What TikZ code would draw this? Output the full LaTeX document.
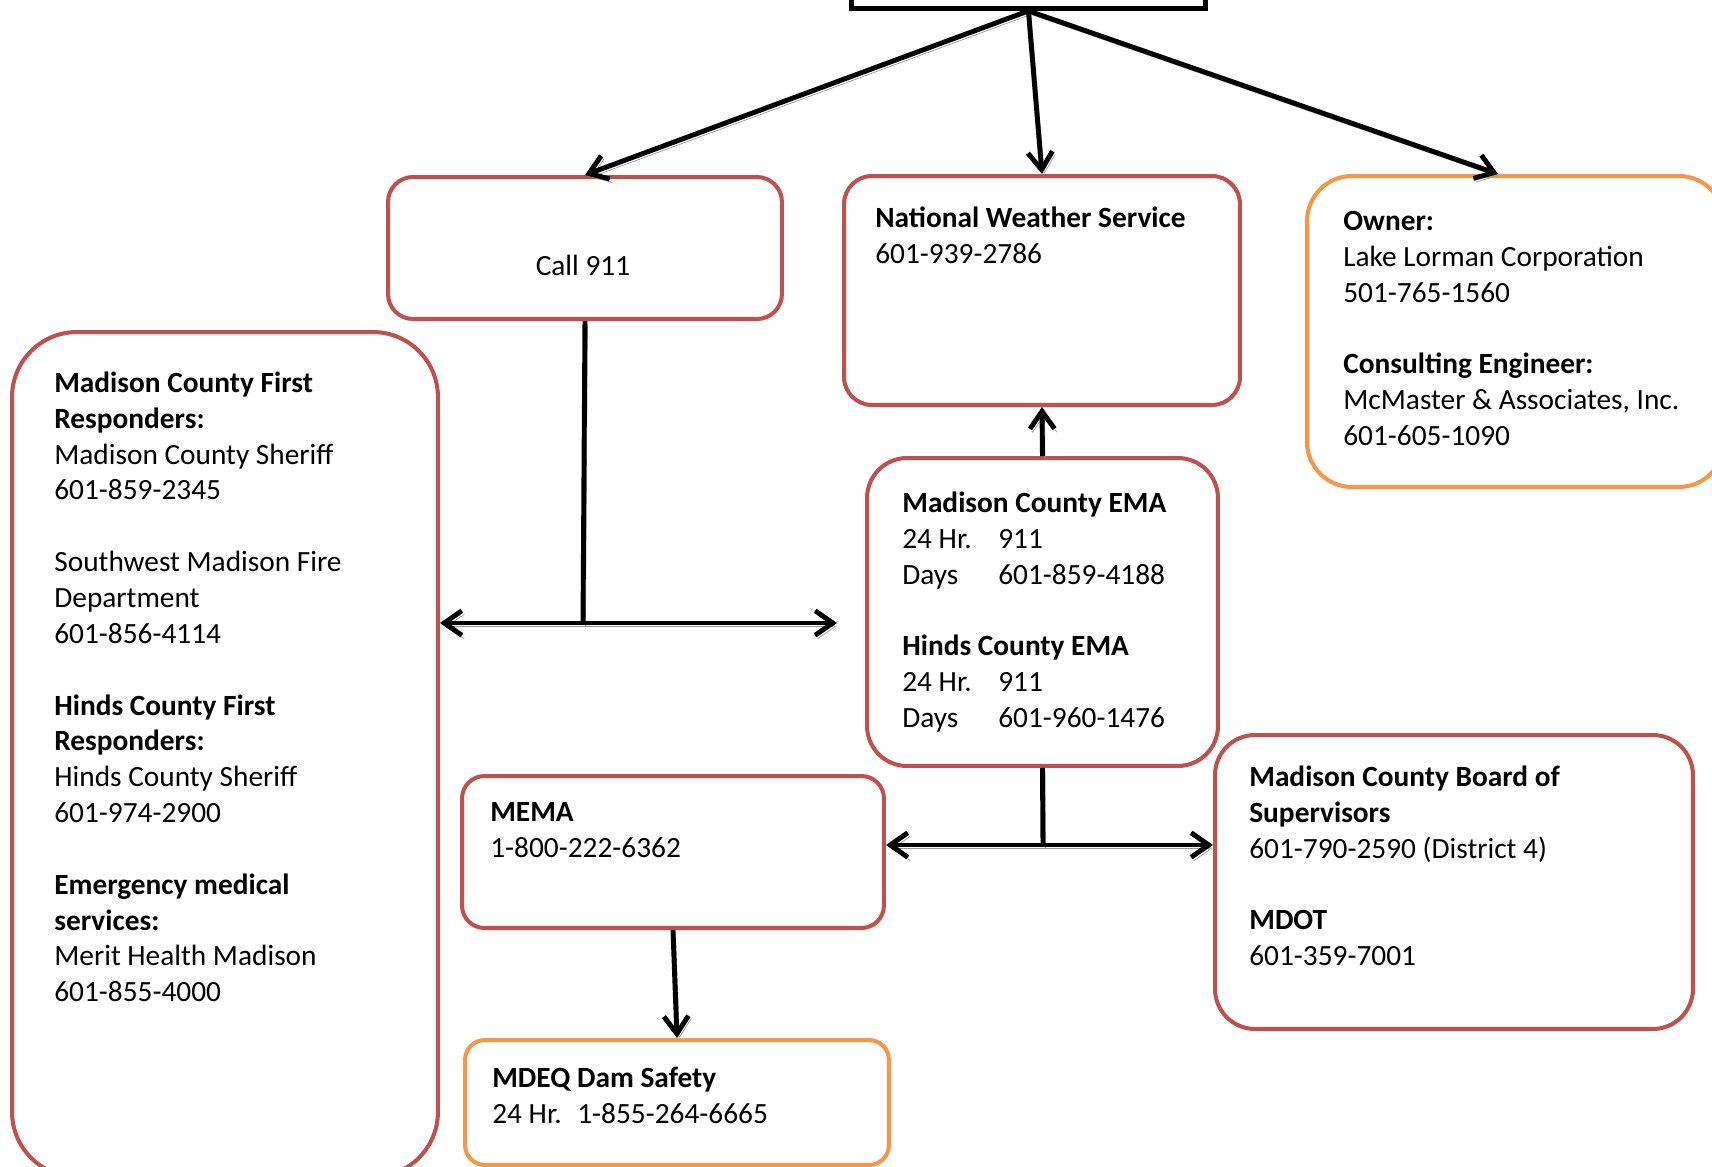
\documentclass[tikz,border=0pt]{standalone}
\usepackage{fontspec}
\setmainfont{Carlito}
\usetikzlibrary{arrows.meta,calc}
\definecolor{boxred}{HTML}{C0504D}
\definecolor{boxorange}{HTML}{F79646}

\begin{document}
\begin{tikzpicture}[x=0.02cm,y=-0.02cm,
	every node/.style={font=\fontsize{16.7pt}{20.4pt}\selectfont},
	box/.style={draw=#1, line width=2.3pt, anchor=north west, inner sep=0pt},
	txt/.style={anchor=north west, align=left, inner sep=0pt},
	link/.style={line width=2.8pt, preaction={draw=black!40, transform canvas={shift={(0.05cm,-0.07cm)}}}},
	>={Straight Barb[length=10pt,width=14pt]}]
	\useasboundingbox (0,0) rectangle (1712,1167);
	\clip (0,0) rectangle (1712,1167);
	% boxes
	\node[draw, line width=2.8pt, anchor=north west, inner sep=0pt, minimum width=7.08cm, minimum height=2cm] (top) at (849,-94) {};
	\node[box=boxred, rounded corners=0.5cm, minimum width=7.88cm, minimum height=2.84cm] (call) at (386,175) {};
	\node[box=boxred, rounded corners=0.56cm, minimum width=7.92cm, minimum height=4.58cm] (nws) at (842,174) {};
	\node[box=boxorange, rounded corners=0.9cm, minimum width=8.34cm, minimum height=6.22cm] (owner) at (1305,174) {};
	\node[box=boxred, rounded corners=1.3cm, minimum width=8.52cm, minimum height=16.9cm] (resp) at (10,330) {};
	\node[box=boxred, rounded corners=0.8cm, minimum width=7.02cm, minimum height=6.16cm] (ema) at (865,456) {};
	\node[box=boxred, rounded corners=0.45cm, minimum width=8.44cm, minimum height=3.04cm] (mema) at (460,774) {};
	\node[box=boxorange, rounded corners=0.4cm, minimum width=8.48cm, minimum height=2.5cm] (mdeq) at (463,1038) {};
	\node[box=boxred, rounded corners=0.8cm, minimum width=9.56cm, minimum height=5.88cm] (board) at (1213,733) {};
	% texts
	\node[anchor=base, inner sep=0pt] (calltxt) at (583,275) {Call 911};
	\node[txt] (nwstxt) at (875,202) {\strut\textbf{National Weather Service}\\601-939-2786};
	\node[txt] (ownertxt) at (1343,205) {\strut\textbf{Owner:}\\Lake Lorman Corporation\\501-765-1560\\[20.4pt]
		\textbf{Consulting Engineer:}\\McMaster \& Associates, Inc.\\601-605-1090};
	\node[txt] (resptxt) at (54,367) {\strut\textbf{Madison County First}\\\textbf{Responders:}\\Madison County Sheriff\\601-859-2345\\[20.4pt]
		Southwest Madison Fire\\Department\\601-856-4114\\[20.4pt]
		\textbf{Hinds County First}\\\textbf{Responders:}\\Hinds County Sheriff\\601-974-2900\\[20.4pt]
		\textbf{Emergency medical}\\\textbf{services:}\\Merit Health Madison\\601-855-4000};
	\node[txt] (ematxt) at (902,487) {\strut\textbf{Madison County EMA}\\\makebox[1.92cm][l]{24 Hr.}911\\\makebox[1.92cm][l]{Days}601-859-4188\\[20.4pt]
		\textbf{Hinds County EMA}\\\makebox[1.92cm][l]{24 Hr.}911\\\makebox[1.92cm][l]{Days}601-960-1476};
	\node[txt] (mematxt) at (490,796) {\strut\textbf{MEMA}\\1-800-222-6362};
	\node[txt] (mdeqtxt) at (492,1062) {\strut\textbf{MDEQ Dam Safety}\\\makebox[1.7cm][l]{24 Hr.}1-855-264-6665};
	\node[txt] (boardtxt) at (1249,761) {\strut\textbf{Madison County Board of}\\\textbf{Supervisors}\\601-790-2590 (District 4)\\[20.4pt]
		\textbf{MDOT}\\601-359-7001};
	% connectors
	\coordinate (callj) at (583,623);
	\coordinate (callr) at (837,623);
	\coordinate (emaj) at (1043,845);
	\draw[link,->] (top.south) -- (call.north);
	\draw[link,->] (top.south) -- (nws.north);
	\draw[link,->] (top.south) -- ($(owner.north west)+(193,0)$);
	\draw[link,->] (ema.north) -- (nws.south);
	\draw[link] (call.south) -- (callj);
	\draw[link,<->] (resp.east |- callj) -- (callr);
	\draw[link] (ema.south) -- (emaj);
	\draw[link,<->] (mema.east |- emaj) -- (board.west |- emaj);
	\draw[link,->] (mema.south) -- (mdeq.north);
\end{tikzpicture}
\end{document}
